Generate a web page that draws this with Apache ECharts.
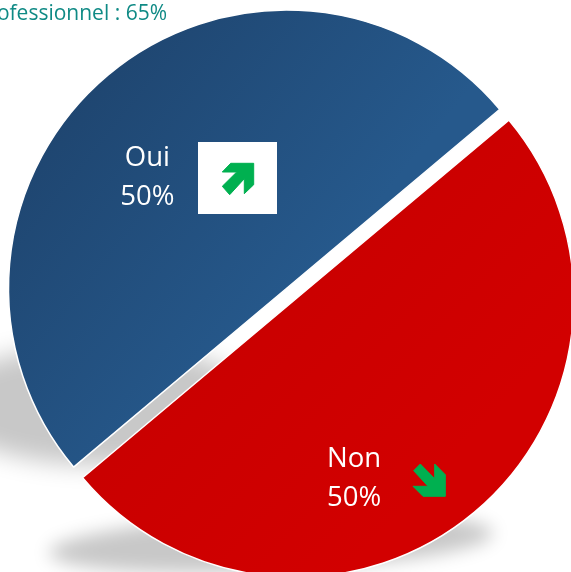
<!DOCTYPE html>
<html><head><meta charset="utf-8">
<style>html,body{margin:0;padding:0;background:#fff;overflow:hidden}#c{width:571px;height:572px}</style>
<script src="https://cdn.jsdelivr.net/npm/echarts@6/dist/echarts.min.js"></script>
</head><body><div id="c"></div>
<script>
const categories = ['Oui', 'Non'];
const values = [50, 50];
const caption = 'ofessionnel : 65%';

const labelOffsets = [[-48, -2], [-33, 71]];
const blueFill = {type:'linear',x:0.1,y:0.15,x2:0.62,y2:0.6,colorStops:[{offset:0,color:'#1e446e'},{offset:1,color:'#26598c'}]};
const redFill = {type:'linear',x:0.1,y:0.2,x2:0.7,y2:0.8,colorStops:[{offset:0,color:'#c50000'},{offset:1,color:'#d20000'}]};
const fills = [blueFill, redFill];
const arrowGreen = '#00b050';
const arrowUp = [[222.3,172],[230.7,163.3],[253.7,163.3],[253.7,184.7],[244.3,193.7],[244.3,178.7],[229.7,194.7],[222.3,186.3],[236.7,172]];
const arrowDown = [[413.7,470.7],[420.3,464],[434.7,478.7],[434.7,464],[445.3,474.7],[445.3,496.3],[423,496.3],[413,486.3],[428,486.3]];

const OFF = 2000;
function softShadow(cx, cy, rx, ry, rot, blur){
  return {type:'ellipse', z:-1, silent:true, x:cx-OFF, y:cy, rotation:rot,
    shape:{cx:0, cy:0, rx:rx, ry:ry},
    style:{fill:'#c8c8c8', shadowBlur:blur, shadowColor:'#c8c8c8', shadowOffsetX:OFF}};
}
const chart = echarts.init(document.getElementById('c'), null, {renderer:'canvas'});
chart.setOption({
  animation:false,
  backgroundColor:'#fff',
  title:{text:caption, right:404, top:4, padding:0,
    textStyle:{color:'#0f8a85', fontSize:21, fontWeight:'normal', fontFamily:'Open Sans'}},
  graphic:{elements:[
    softShadow(100, 405, 158, 60, 0, 24),
    softShadow(271, 543, 222, 28, 0.045, 18),
    {type:'rect', z:100, silent:true, shape:{x:198,y:142,width:79,height:72}, style:{fill:'#fff'}},
    {type:'polygon', z:101, silent:true, shape:{points:arrowUp}, style:{fill:arrowGreen, stroke:arrowGreen, lineWidth:1}},
    {type:'polygon', z:101, silent:true, shape:{points:arrowDown}, style:{fill:arrowGreen, stroke:arrowGreen, lineWidth:1}}
  ]},
  series:[{
    type:'pie', z:5,
    center:[291.2,293.6], radius:[0,278.2],
    startAngle:220, clockwise:true,
    selectedMode:'multiple', selectedOffset:7,
    silent:true,
    itemStyle:{borderColor:'#fff', borderWidth:1.5},
    select:{itemStyle:{borderColor:'#fff', borderWidth:1.5}},
    labelLine:{show:false},
    label:{show:true, position:'inside', color:'#fff', fontSize:27.5, lineHeight:39,
      fontFamily:'Open Sans', formatter:p=>p.name+'\n'+p.value+'%', align:'center', verticalAlign:'middle'},
    data:categories.map((n,i)=>({name:n, value:values[i], selected:true,
      itemStyle:{color:fills[i]}, select:{itemStyle:{color:fills[i]}, label:{offset:labelOffsets[i]}}, label:{offset:labelOffsets[i]}}))
  }]
});
</script></body></html>
